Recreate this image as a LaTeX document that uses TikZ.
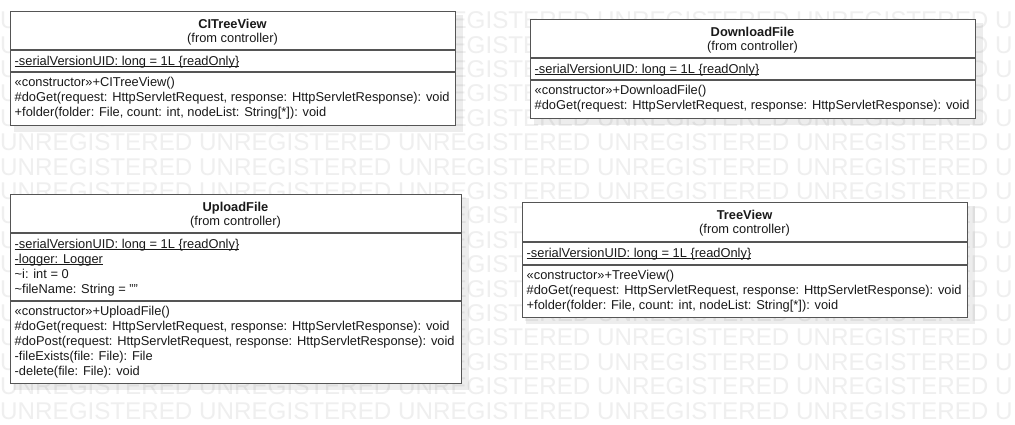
\documentclass[tikz,border=0pt]{standalone}
\usepackage{fontspec}
\setmainfont{Liberation Sans}
\usetikzlibrary{calc}
\newlength\ulwd
\newcommand\myul[1]{\settowidth\ulwd{#1}\rlap{\rule[-1.8pt]{\ulwd}{0.9pt}}#1}
\newcommand\memfont{\fontsize{12.85}{15}\selectfont}
\definecolor{wmgray}{RGB}{239,239,239}
\definecolor{edge}{RGB}{85,85,85}
\definecolor{ink}{RGB}{25,25,25}
\begin{document}
\begin{tikzpicture}[x=1pt,y=-1pt,
  wm/.style={anchor=base west, inner sep=0, text=wmgray, font=\fontsize{24.2}{26}\selectfont},
  shadowrect/.style={fill=black, fill opacity=0.07, draw=none},
  classbox/.style={draw=edge, line width=1.4pt, fill=white, inner sep=0, anchor=north west},
  divider/.style={draw=edge, line width=1.4pt},
  ctitle/.style={anchor=base, inner sep=0, text=ink, font=\memfont\bfseries},
  csub/.style={anchor=base, inner sep=0, text=ink, font=\memfont},
  member/.style={anchor=base west, inner sep=0, text=ink, font=\memfont}]
\useasboundingbox (0,0) rectangle (1015,424);
\fill[white] (0,0) rectangle (1015,424);
% watermark
\foreach \k in {0,...,16}
  \node[wm] (wm\k) at (0,{28.7+24.4*\k}) {UNREGISTERED UNREGISTERED UNREGISTERED UNREGISTERED UNREGISTERED U};
% shadows
\fill[shadowrect] (14,15) rectangle (463,132);
\fill[shadowrect] (534,23) rectangle (983,125);
\fill[shadowrect] (14,198) rectangle (469,390);
\fill[shadowrect] (526,206) rectangle (975,324);

% ---- CITreeView
\node[classbox, minimum width=445pt, minimum height=114pt] (c1) at (10,11) {};
\draw[divider] ($(c1.north west)+(0,39)$) -- ($(c1.north east)+(0,39)$);
\draw[divider] ($(c1.north west)+(0,61)$) -- ($(c1.north east)+(0,61)$);
\node[ctitle] (c1t) at (232.5,28) {CITreeView};
\node[csub] (c1s) at (232.5,42) {(from controller)};
\node[member] (c1a1) at (14.5,65) {\myul{-serialVersionUID: long = 1L \{readOnly\}}};
\node[member] (c1m1) at (14.5,86) {«constructor»+CITreeView()};
\node[member] (c1m2) at (14.5,101) {\#doGet(request: HttpServletRequest, response: HttpServletResponse): void};
\node[member] (c1m3) at (14.5,116) {+folder(folder: File, count: int, nodeList: String[*]): void};

% ---- DownloadFile
\node[classbox, minimum width=445pt, minimum height=99pt] (c2) at (530,19) {};
\draw[divider] ($(c2.north west)+(0,39)$) -- ($(c2.north east)+(0,39)$);
\draw[divider] ($(c2.north west)+(0,61)$) -- ($(c2.north east)+(0,61)$);
\node[ctitle] (c2t) at (752.5,36) {DownloadFile};
\node[csub] (c2s) at (752.5,50) {(from controller)};
\node[member] (c2a1) at (534.5,73) {\myul{-serialVersionUID: long = 1L \{readOnly\}}};
\node[member] (c2m1) at (534.5,94) {«constructor»+DownloadFile()};
\node[member] (c2m2) at (534.5,109) {\#doGet(request: HttpServletRequest, response: HttpServletResponse): void};

% ---- UploadFile
\node[classbox, minimum width=451pt, minimum height=189pt] (c3) at (10,194) {};
\draw[divider] ($(c3.north west)+(0,39)$) -- ($(c3.north east)+(0,39)$);
\draw[divider] ($(c3.north west)+(0,107)$) -- ($(c3.north east)+(0,107)$);
\node[ctitle] (c3t) at (235.5,211) {UploadFile};
\node[csub] (c3s) at (235.5,225) {(from controller)};
\node[member] (c3a1) at (14.5,248) {\myul{-serialVersionUID: long = 1L \{readOnly\}}};
\node[member] (c3a2) at (14.5,263) {\myul{-logger: Logger}};
\node[member] (c3a3) at (14.5,278) {\textasciitilde i: int = 0};
\node[member] (c3a4) at (14.5,293) {\textasciitilde fileName: String = \symbol{34}\symbol{34}};
\node[member] (c3m1) at (14.5,315) {«constructor»+UploadFile()};
\node[member] (c3m2) at (14.5,330) {\#doGet(request: HttpServletRequest, response: HttpServletResponse): void};
\node[member] (c3m3) at (14.5,345) {\#doPost(request: HttpServletRequest, response: HttpServletResponse): void};
\node[member] (c3m4) at (14.5,360) {-fileExists(file: File): File};
\node[member] (c3m5) at (14.5,375) {-delete(file: File): void};

% ---- TreeView
\node[classbox, minimum width=445pt, minimum height=115pt] (c4) at (522,202) {};
\draw[divider] ($(c4.north west)+(0,40)$) -- ($(c4.north east)+(0,40)$);
\draw[divider] ($(c4.north west)+(0,63)$) -- ($(c4.north east)+(0,63)$);
\node[ctitle] (c4t) at (744.5,219) {TreeView};
\node[csub] (c4s) at (744.5,233) {(from controller)};
\node[member] (c4a1) at (526.5,257) {\myul{-serialVersionUID: long = 1L \{readOnly\}}};
\node[member] (c4m1) at (526.5,279) {«constructor»+TreeView()};
\node[member] (c4m2) at (526.5,294) {\#doGet(request: HttpServletRequest, response: HttpServletResponse): void};
\node[member] (c4m3) at (526.5,309) {+folder(folder: File, count: int, nodeList: String[*]): void};
\end{tikzpicture}
\end{document}
